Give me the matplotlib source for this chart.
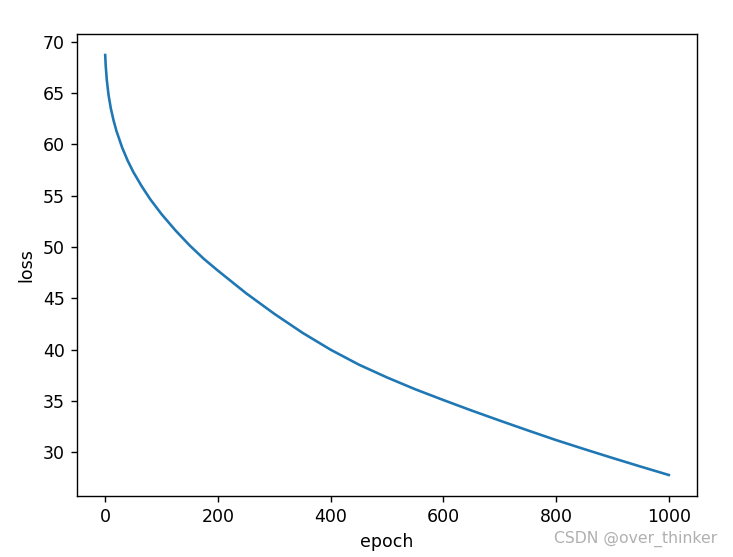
import numpy as np
import matplotlib
matplotlib.use("Agg")
import matplotlib.pyplot as plt

# values
epochs = [0, 1, 3, 6, 10, 15, 20, 30, 40, 50, 65, 80, 100, 125, 150, 175, 200, 250, 300, 350,
          400, 450, 500, 550, 600, 650, 700, 750, 800, 850, 900, 950, 1000]
loss = [68.7, 67.6, 66.2, 64.8, 63.5, 62.3, 61.3, 59.7, 58.4, 57.3, 55.9, 54.65, 53.2, 51.6, 50.15,
        48.85, 47.7, 45.5, 43.5, 41.65, 40.0, 38.55, 37.3, 36.15, 35.1, 34.08, 33.1, 32.14, 31.2,
        30.32, 29.46, 28.62, 27.8]

W, H = 733, 557
fig = plt.figure(figsize=(W / 125, H / 125), dpi=125)
ax = fig.add_axes([77 / W, 61 / H, 620 / W, 462 / H])

ax.plot(epochs, loss)
ax.set_xlabel('epoch')
ax.set_ylabel('loss')

# watermark
fig.text(717 / W, 1 - 539 / H, 'CSDN @over_thinker', ha='right', va='center',
         color='#b0b0b0', fontsize=9)

fig.savefig('out.png', dpi=125)
